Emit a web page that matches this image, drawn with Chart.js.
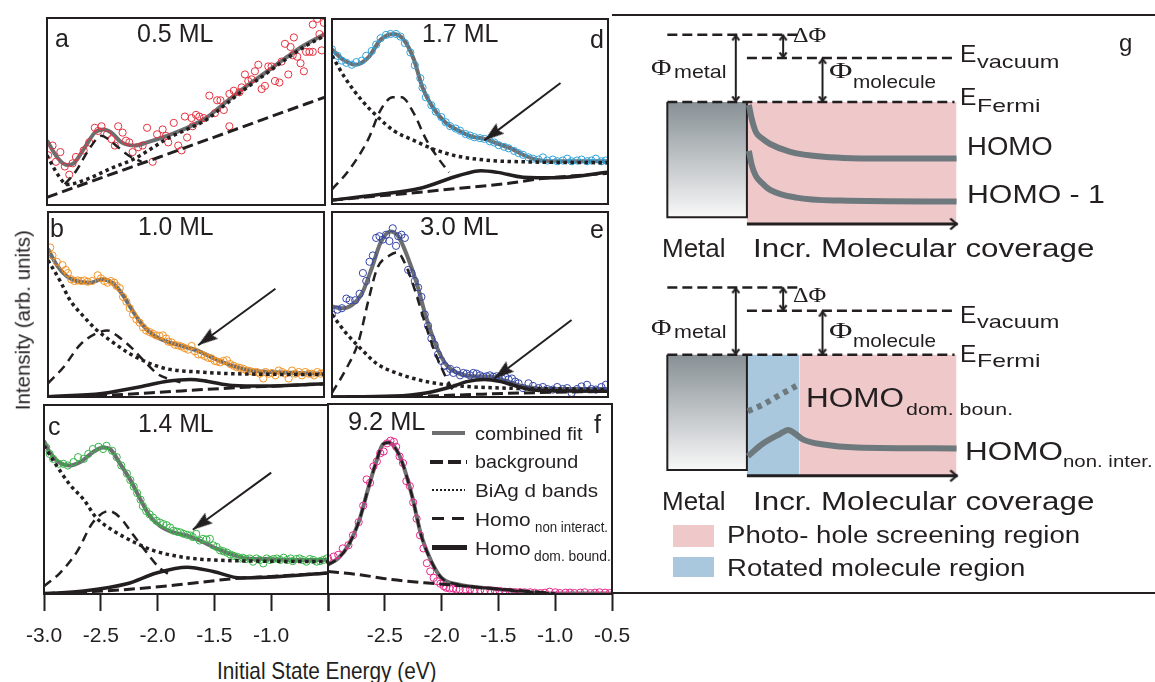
<!DOCTYPE html>
<html>
<head>
<meta charset="utf-8">
<script src="https://cdn.jsdelivr.net/npm/chart.js@4.4.0/dist/chart.umd.min.js"></script>
<style>
    body { margin: 0; background: #fff; width: 1155px; height: 682px; overflow: hidden; position: relative; font-family: 'Liberation Sans', Arial, sans-serif; color: #231f20; }
    canvas.cv { position: absolute; }
    .lbl { position: absolute; white-space: nowrap; line-height: 1; transform-origin: 0 0; }
    .box { position: absolute; }
</style>
</head>
<body>
<script>
// ---- spectra: [energy (eV), intensity (arb. units, 0-100 per panel)] ----
const pointsA = [[-2.99,26.6],[-2.95,31.8],[-2.92,23.1],[-2.88,28.3],[-2.84,20.6],[-2.80,16.2],[-2.77,22.3],[-2.74,25.7],[-2.67,29.2],[-2.62,33.5],[-2.57,41.3],[-2.54,39.6],[-2.51,42.1],[-2.46,37.8],[-2.42,35.2],[-2.39,31.8],[-2.36,42.1],[-2.32,38.7],[-2.29,34.4],[-2.26,33.5],[-2.23,28.3],[-2.18,30.9],[-2.14,31.8],[-2.10,41.3],[-2.05,23.1],[-2.01,37.8],[-1.96,40.4],[-1.93,37.0],[-1.91,33.5],[-1.86,43.9],[-1.82,31.8],[-1.79,29.2],[-1.76,47.3],[-1.74,36.1],[-1.70,46.5],[-1.69,42.1],[-1.66,48.2],[-1.63,47.3],[-1.59,46.5],[-1.54,58.5],[-1.49,49.1],[-1.47,56.0],[-1.44,56.0],[-1.41,50.8],[-1.36,42.1],[-1.36,59.4],[-1.32,61.1],[-1.27,60.3],[-1.25,62.9],[-1.22,69.8],[-1.19,66.3],[-1.16,67.2],[-1.13,71.5],[-1.10,75.0],[-1.07,62.0],[-1.04,63.7],[-1.01,74.1],[-0.98,74.1],[-0.95,66.3],[-0.91,65.5],[-0.89,76.7],[-0.86,86.2],[-0.83,69.8],[-0.81,84.5],[-0.79,80.1],[-0.78,89.6],[-0.75,79.3],[-0.72,75.8],[-0.69,71.5],[-0.67,81.9],[-0.64,81.9],[-0.61,81.9],[-0.61,96.5],[-0.57,99.5],[-0.55,91.4],[-0.53,82.7],[-0.51,97.4]];
const fitA = [[-3.0,34.4],[-2.9,24.9],[-2.82,21.4],[-2.76,22.3],[-2.65,31.8],[-2.57,38.7],[-2.49,40.4],[-2.42,38.7],[-2.33,33.5],[-2.21,31.8],[-2.10,33.5],[-1.92,37.0],[-1.74,41.3],[-1.57,46.5],[-1.39,55.1],[-1.22,62.9],[-1.04,70.6],[-0.86,78.4],[-0.69,85.3],[-0.5,91.4]];
const bgA = [[-3.0,4.1],[-2.5,14.8],[-2.0,25.4],[-1.5,36.2],[-1.0,47.0],[-0.5,57.7]];
const dBandA = [[-3.0,26.6],[-2.9,16.0],[-2.82,11.0],[-2.65,13.6],[-2.42,19.7],[-2.21,24.9],[-2.04,31.0],[-1.92,35.5],[-1.74,40.5],[-1.57,45.5],[-1.39,54.0],[-1.22,62.0],[-1.04,69.8],[-0.86,77.6],[-0.69,84.5],[-0.5,90.6]];
const homoNonA = [[-2.84,11.1],[-2.74,18.0],[-2.62,30.0],[-2.51,37.0],[-2.45,35.2],[-2.36,30.9],[-2.27,26.6],[-2.15,23.1]];

const pointsB = [[-2.98,80.8],[-2.96,76.5],[-2.92,73.1],[-2.87,71.3],[-2.84,68.7],[-2.82,67.0],[-2.79,63.6],[-2.76,62.7],[-2.73,63.0],[-2.70,62.7],[-2.67,63.0],[-2.64,62.3],[-2.60,62.7],[-2.55,65.8],[-2.52,64.1],[-2.49,62.7],[-2.46,61.8],[-2.43,62.7],[-2.40,61.8],[-2.38,60.1],[-2.35,58.9],[-2.32,54.1],[-2.29,51.5],[-2.26,48.0],[-2.23,44.6],[-2.20,42.0],[-2.17,40.2],[-2.14,37.7],[-2.11,35.9],[-2.08,35.1],[-2.05,34.2],[-2.02,33.3],[-1.99,33.0],[-1.96,33.3],[-1.93,31.6],[-1.91,29.9],[-1.88,29.5],[-1.85,28.2],[-1.82,27.8],[-1.79,27.3],[-1.76,26.4],[-1.73,25.6],[-1.70,27.6],[-1.67,24.7],[-1.64,23.0],[-1.61,23.0],[-1.58,22.1],[-1.55,21.2],[-1.52,20.9],[-1.49,19.5],[-1.47,19.2],[-1.44,18.7],[-1.41,19.5],[-1.38,19.9],[-1.35,17.8],[-1.32,16.9],[-1.29,16.1],[-1.26,15.7],[-1.23,15.2],[-1.20,14.3],[-1.17,14.0],[-1.14,13.5],[-1.11,13.5],[-1.08,12.6],[-1.05,10.0],[-1.03,13.5],[-1.00,12.6],[-0.97,13.0],[-0.94,11.7],[-0.91,14.3],[-0.88,13.5],[-0.85,12.6],[-0.82,10.0],[-0.79,14.3],[-0.76,12.6],[-0.73,13.5],[-0.70,11.7],[-0.67,13.5],[-0.64,12.6],[-0.61,12.6],[-0.59,11.7],[-0.56,13.5],[-0.53,12.6],[-0.50,13.0]];
const fitB = [[-3.0,80.0],[-2.92,71.3],[-2.83,65.3],[-2.74,62.7],[-2.62,61.8],[-2.51,63.6],[-2.42,61.8],[-2.33,55.8],[-2.24,47.2],[-2.15,39.4],[-2.04,33.3],[-1.92,29.9],[-1.77,27.3],[-1.63,24.7],[-1.48,20.4],[-1.33,16.9],[-1.16,14.3],[-0.98,13.5],[-0.75,13.0],[-0.5,12.6]];
const dBandB = [[-3.0,73.9],[-2.89,62.7],[-2.80,52.3],[-2.68,43.7],[-2.57,36.8],[-2.42,29.9],[-2.27,23.8],[-2.10,18.7],[-1.92,15.2],[-1.63,13.5],[-1.33,12.6],[-0.5,12.1]];
const homoNonB = [[-3.0,7.4],[-2.86,16.1],[-2.71,28.2],[-2.57,34.2],[-2.46,35.9],[-2.36,32.5],[-2.24,26.4],[-2.13,19.5],[-2.01,12.6],[-1.92,10.0],[-1.8,8.0]];
const homoDomB = [[-3.0,0.2],[-2.51,1.9],[-2.15,5.7],[-1.92,8.5],[-1.71,9.5],[-1.55,8.4],[-1.33,6.2],[-1.04,5.9],[-0.5,7.1]];
const bgB = [[-3.0,0.2],[-2.5,0.9],[-2.0,2.5],[-1.6,4.0],[-1.3,5.0],[-1.0,5.8],[-0.5,7.0]];
const arrowB = [[-0.94,58.5],[-1.64,28.0]];

const pointsC = [[-2.98,77.5],[-2.95,74.1],[-2.92,71.5],[-2.87,68.9],[-2.83,68.9],[-2.79,68.0],[-2.74,69.8],[-2.70,72.4],[-2.65,71.5],[-2.61,74.1],[-2.57,76.7],[-2.52,77.9],[-2.48,76.7],[-2.45,78.4],[-2.40,75.8],[-2.36,72.4],[-2.32,68.0],[-2.27,63.7],[-2.24,60.3],[-2.21,56.8],[-2.18,53.4],[-2.15,49.9],[-2.13,46.5],[-2.10,43.9],[-2.07,42.1],[-2.04,40.4],[-2.01,38.7],[-1.98,37.8],[-1.95,37.0],[-1.92,36.4],[-1.89,35.2],[-1.86,33.5],[-1.83,33.0],[-1.80,32.6],[-1.77,31.8],[-1.74,31.3],[-1.71,30.9],[-1.69,30.1],[-1.66,31.8],[-1.63,28.3],[-1.60,29.2],[-1.57,28.8],[-1.54,29.2],[-1.51,25.7],[-1.48,24.9],[-1.45,23.1],[-1.42,22.6],[-1.39,21.9],[-1.36,20.9],[-1.33,20.2],[-1.30,19.7],[-1.27,18.8],[-1.25,19.2],[-1.22,18.5],[-1.19,18.8],[-1.16,17.1],[-1.13,18.8],[-1.10,18.0],[-1.07,16.2],[-1.04,18.8],[-1.01,18.0],[-0.98,18.5],[-0.95,18.8],[-0.92,18.0],[-0.89,19.2],[-0.86,18.0],[-0.83,18.8],[-0.81,17.4],[-0.78,18.5],[-0.75,18.8],[-0.72,18.0],[-0.69,17.1],[-0.66,18.5],[-0.63,18.0],[-0.60,17.1],[-0.57,17.4],[-0.54,18.0],[-0.51,18.8]];
const fitC = [[-3.0,81.0],[-2.95,75.0],[-2.87,69.8],[-2.77,68.0],[-2.68,69.8],[-2.57,75.0],[-2.48,77.5],[-2.42,76.7],[-2.33,68.9],[-2.24,60.3],[-2.15,49.9],[-2.07,41.3],[-1.98,36.1],[-1.86,32.6],[-1.74,30.9],[-1.63,28.3],[-1.48,24.0],[-1.33,20.6],[-1.22,18.8],[-1.04,18.5],[-0.81,18.0],[-0.5,18.0]];
const dBandC = [[-3.0,78.4],[-2.89,68.0],[-2.77,57.7],[-2.65,49.9],[-2.54,40.4],[-2.39,33.5],[-2.21,27.5],[-2.04,23.1],[-1.80,19.7],[-1.51,18.0],[-0.5,17.1]];
const homoNonC = [[-3.0,4.1],[-2.86,11.1],[-2.71,22.3],[-2.57,37.8],[-2.43,43.9],[-2.33,40.4],[-2.21,30.9],[-2.10,22.3],[-1.98,13.6],[-1.89,10.2]];
const homoDomC = [[-3.0,0.2],[-2.65,1.6],[-2.27,5.4],[-2.01,11.1],[-1.74,14.2],[-1.51,11.9],[-1.27,8.5],[-1.04,8.8],[-0.5,11.1]];
const bgC = [[-3.0,0.2],[-2.27,2.4],[-1.80,5.0],[-1.33,8.1],[-1.0,9.3],[-0.5,11.1]];
const arrowC = [[-1.0,64.2],[-1.69,34.0]];

const pointsD = [[-3.0,83.6],[-2.95,80.1],[-2.91,77.5],[-2.87,76.3],[-2.82,75.3],[-2.78,76.7],[-2.73,77.5],[-2.69,80.1],[-2.64,82.7],[-2.60,86.2],[-2.56,89.6],[-2.51,91.4],[-2.47,91.9],[-2.42,91.9],[-2.38,90.5],[-2.34,87.0],[-2.29,81.9],[-2.25,75.0],[-2.20,68.0],[-2.18,62.9],[-2.15,57.7],[-2.10,53.4],[-2.06,49.9],[-2.01,47.0],[-1.97,44.2],[-1.93,42.1],[-1.88,40.8],[-1.84,39.6],[-1.79,37.8],[-1.75,37.0],[-1.71,36.1],[-1.66,35.6],[-1.62,35.2],[-1.57,33.9],[-1.53,33.2],[-1.49,31.8],[-1.44,30.9],[-1.40,30.1],[-1.35,28.7],[-1.31,27.5],[-1.27,26.6],[-1.22,25.2],[-1.18,24.5],[-1.13,24.0],[-1.09,25.2],[-1.05,23.5],[-1.00,24.0],[-0.96,23.1],[-0.91,23.5],[-0.87,24.5],[-0.83,23.1],[-0.78,23.5],[-0.74,24.0],[-0.69,23.1],[-0.65,23.5],[-0.61,24.5],[-0.56,23.1],[-0.52,23.5]];
const fitD = [[-3.0,83.6],[-2.91,78.4],[-2.79,75.3],[-2.67,79.3],[-2.56,88.8],[-2.44,91.9],[-2.35,88.8],[-2.26,78.4],[-2.18,62.9],[-2.09,52.5],[-1.97,43.9],[-1.85,39.6],[-1.74,36.6],[-1.62,35.2],[-1.50,32.6],[-1.38,30.1],[-1.27,26.6],[-1.15,24.0],[-0.97,23.1],[-0.74,23.1],[-0.5,23.1]];
const dBandD = [[-3.0,80.1],[-2.88,68.0],[-2.73,56.0],[-2.59,47.3],[-2.44,39.6],[-2.26,34.4],[-2.06,29.2],[-1.85,25.7],[-1.56,23.5],[-1.27,22.8],[-0.5,22.3]];
const homoNonD = [[-3.0,7.9],[-2.85,18.0],[-2.67,35.2],[-2.56,50.8],[-2.45,57.7],[-2.37,57.7],[-2.26,49.1],[-2.15,35.2],[-2.04,24.9],[-1.94,17.1]];
const homoDomD = [[-3.0,2.1],[-2.59,5.0],[-2.20,8.5],[-1.85,15.4],[-1.65,18.0],[-1.50,17.1],[-1.27,14.5],[-0.97,14.2],[-0.5,17.1]];
const bgD = [[-3.0,2.1],[-2.29,5.9],[-1.85,8.5],[-1.41,11.1],[-1.12,13.6],[-0.5,16.6]];
const arrowD = [[-0.93,65.4],[-1.62,34.4]];

const pointsE = [[-3.0,44.6],[-2.95,47.2],[-2.91,48.0],[-2.87,53.2],[-2.84,52.3],[-2.79,52.3],[-2.75,55.8],[-2.72,67.0],[-2.69,62.7],[-2.66,73.1],[-2.63,76.5],[-2.60,86.0],[-2.57,86.9],[-2.54,85.1],[-2.51,87.7],[-2.48,84.3],[-2.45,91.2],[-2.42,81.7],[-2.40,86.9],[-2.37,87.7],[-2.34,86.0],[-2.31,68.7],[-2.28,67.0],[-2.25,62.7],[-2.22,59.2],[-2.19,54.1],[-2.16,44.6],[-2.13,38.5],[-2.10,31.6],[-2.07,28.2],[-2.04,23.0],[-2.01,19.5],[-1.98,16.9],[-1.96,13.5],[-1.93,15.2],[-1.90,13.0],[-1.87,14.3],[-1.84,11.7],[-1.81,13.0],[-1.78,12.6],[-1.75,11.7],[-1.72,13.0],[-1.69,12.6],[-1.66,11.7],[-1.63,10.9],[-1.60,11.2],[-1.57,11.7],[-1.54,10.9],[-1.51,11.2],[-1.49,10.5],[-1.46,10.0],[-1.43,10.9],[-1.40,9.5],[-1.37,10.0],[-1.34,8.3],[-1.31,7.4],[-1.27,4.8],[-1.22,7.4],[-1.18,6.0],[-1.13,4.8],[-1.09,5.4],[-1.05,4.3],[-1.00,4.0],[-0.96,5.4],[-0.91,4.3],[-0.87,4.8],[-0.83,2.2],[-0.78,4.3],[-0.74,5.7],[-0.69,6.6],[-0.65,4.3],[-0.61,4.0],[-0.56,5.4],[-0.52,6.6]];
const fitE = [[-3.0,48.9],[-2.91,48.0],[-2.82,49.7],[-2.73,55.8],[-2.64,69.6],[-2.56,83.4],[-2.47,89.5],[-2.40,86.9],[-2.32,76.5],[-2.23,61.0],[-2.15,43.7],[-2.06,28.2],[-1.97,17.8],[-1.85,12.6],[-1.71,11.2],[-1.56,10.9],[-1.41,8.3],[-1.27,5.7],[-0.97,4.3],[-0.5,4.3]];
const dBandE = [[-3.0,44.6],[-2.88,35.1],[-2.73,25.6],[-2.59,17.8],[-2.44,13.5],[-2.26,10.0],[-2.06,7.4],[-1.79,5.7],[-0.5,4.0]];
const homoNonE = [[-3.0,2.2],[-2.88,14.3],[-2.76,29.9],[-2.67,52.3],[-2.59,69.6],[-2.48,76.5],[-2.41,78.2],[-2.32,69.6],[-2.23,54.1],[-2.15,38.5],[-2.06,23.0],[-1.97,10.9],[-1.90,3.1]];
const homoDomE = [[-3.0,0.0],[-2.44,0.5],[-2.15,2.2],[-1.91,5.7],[-1.78,8.3],[-1.62,9.5],[-1.47,8.3],[-1.32,5.7],[-1.15,3.6],[-0.5,3.1]];
const bgE = [[-3.0,0.0],[-2.15,0.5],[-1.71,1.4],[-1.27,2.2],[-0.5,3.1]];
const arrowE = [[-0.83,41.6],[-1.53,10.0]];

const pointsF = [[-3.0,18.8],[-2.95,19.7],[-2.91,20.6],[-2.87,24.0],[-2.82,25.7],[-2.78,30.9],[-2.73,37.8],[-2.69,46.5],[-2.66,60.3],[-2.63,58.5],[-2.60,67.2],[-2.57,69.8],[-2.54,74.1],[-2.51,75.0],[-2.48,79.3],[-2.45,80.7],[-2.42,80.1],[-2.40,77.5],[-2.37,72.4],[-2.34,68.9],[-2.31,59.4],[-2.28,56.8],[-2.25,48.2],[-2.22,39.6],[-2.19,30.9],[-2.16,24.0],[-2.13,16.2],[-2.10,11.9],[-2.07,8.5],[-2.04,6.7],[-2.01,5.4],[-1.98,4.1],[-1.96,3.3],[-1.93,2.9],[-1.90,2.9],[-1.87,2.4],[-1.84,2.4],[-1.79,2.4],[-1.75,2.4],[-1.71,2.1],[-1.66,2.1],[-1.62,1.9],[-1.57,1.9],[-1.53,1.6],[-1.49,1.6],[-1.44,1.2],[-1.40,1.2],[-1.35,1.0],[-1.31,1.0],[-1.27,0.9],[-1.22,0.9],[-1.18,0.7],[-1.13,0.5],[-1.09,0.7],[-1.05,1.2],[-1.00,0.9],[-0.96,0.5],[-0.91,0.7],[-0.87,0.7],[-0.83,0.5],[-0.78,0.7],[-0.74,0.9],[-0.69,0.5],[-0.65,0.7],[-0.61,0.9],[-0.56,0.7],[-0.52,0.5]];
const fitF = [[-3.0,15.4],[-2.91,18.8],[-2.82,25.7],[-2.73,37.8],[-2.64,56.8],[-2.57,70.6],[-2.52,78.6],[-2.47,79.8],[-2.42,77.9],[-2.35,69.8],[-2.26,51.6],[-2.18,30.9],[-2.09,17.1],[-2.0,8.5],[-1.85,5.0],[-1.56,2.9],[-1.27,1.2],[-1.0,0.2],[-0.5,0.2]];
const homoNonF = [[-3.0,15.4],[-2.91,18.8],[-2.82,25.7],[-2.73,37.8],[-2.64,56.8],[-2.57,70.6],[-2.52,78.6],[-2.47,79.8],[-2.42,77.9],[-2.35,69.8],[-2.26,51.6],[-2.18,30.9],[-2.09,17.1],[-2.0,8.5],[-1.85,5.0],[-1.56,2.9],[-1.27,1.2],[-1.0,0.2]];
const bgF = [[-3.0,11.9],[-2.73,10.2],[-2.44,7.6],[-2.15,5.9],[-1.85,4.5],[-1.56,2.9],[-1.27,1.6],[-1.0,0.2]];

const energyTicks = [-3.0, -2.5, -2.0, -1.5, -1.0, -0.5];

// ---- energy level diagram (g), in diagram units ----
const metalBoxTop = [[49.6, 82], [131.3, 200]];
const metalBoxLow = [[49.6, 341], [131.3, 459]];
const screenTop = [[131.3, 82], [346.5, 207]];
const screenLow = [[185.1, 341], [346.5, 465]];
const rotatedLow = [[131.3, 341], [185.1, 465]];
const levelLines = [
    [[49.6, 13], [186.1, 13]], [[131.3, 37], [344.4, 37]], [[49.6, 82], [344.4, 82]],
    [[49.6, 272], [186.1, 272]], [[131.3, 296], [344.4, 296]], [[49.6, 341], [344.4, 341]]
];
const gapArrows = [
    [[119.9, 13], [119.9, 82]], [[168.5, 13], [168.5, 37]], [[208.9, 37], [208.9, 82]],
    [[119.9, 272], [119.9, 341]], [[168.5, 272], [168.5, 296]], [[208.9, 296], [208.9, 341]]
];
const coverageArrows = [[[131.3, 207], [347.5, 207]], [[131.3, 465], [347.5, 465]]];
const homoTop = [[133.3,85],[136.4,100],[140.6,113],[147.8,120],[155.1,125],[175.8,133],[209.9,138],[279.2,140],[346.5,140]];
const homo1Top = [[133.3,132],[136.4,147],[140.6,158],[147.8,166],[155.1,172],[182,180],[227.5,183],[346.5,184]];
const homoDomLow = [[132.3,399],[147.8,392],[165.4,382],[182,373]];
const homoNonLow = [[132.3,445],[147.8,432],[165.4,422],[173.7,418],[180.9,422],[189.2,428],[209.9,433],[244,436],[346.5,437]];

const INK = '#231f20';
const SANS = "'Liberation Sans', Arial, sans-serif";
const SERIF = "'Liberation Serif', 'Times New Roman', serif";
Chart.defaults.font.family = SANS;
Chart.defaults.color = INK;

function addCanvas(left, top, w, h) {
    const c = document.createElement('canvas');
    c.className = 'cv';
    c.width = w; c.height = h;
    c.style.left = left + 'px'; c.style.top = top + 'px';
    c.style.width = w + 'px'; c.style.height = h + 'px';
    document.body.appendChild(c);
    return c;
}

function makeHead(w, len, filled) {
    // apex sits at the centre of the image so the data point is the tip
    const c = document.createElement('canvas');
    c.width = w; c.height = len * 2;
    const g = c.getContext('2d');
    g.fillStyle = g.strokeStyle = INK;
    g.beginPath();
    if (filled) {
        g.moveTo(w / 2, len); g.lineTo(w, 2 * len); g.lineTo(w / 2, 2 * len - 3); g.lineTo(0, 2 * len);
        g.closePath(); g.fill();
    } else {
        g.lineWidth = 2.2;
        g.moveTo(1.5, len + len * 0.8); g.lineTo(w / 2, len + 1); g.lineTo(w - 1.5, len + len * 0.8);
        g.stroke();
    }
    return c;
}
const bigHead = makeHead(13, 20, true);
const smallHead = makeHead(10, 7, false);
const sideHead = makeHead(14, 9, false);

function headRotation(ctx) {
    const pts = ctx.dataset.data, i = ctx.dataIndex;
    const j = i === 0 ? 1 : i - 1;
    const sx = ctx.chart.scales.x, sy = ctx.chart.scales.y;
    const dx = sx.getPixelForValue(pts[i].x) - sx.getPixelForValue(pts[j].x);
    const dy = sy.getPixelForValue(pts[i].y) - sy.getPixelForValue(pts[j].y);
    return Math.atan2(dx, -dy) * 180 / Math.PI;
}

const xy = pts => pts.map(p => ({x: p[0], y: p[1]}));

function curve(pts, style, order) {
    return Object.assign({
        data: xy(pts), showLine: true, pointRadius: 0, fill: false,
        cubicInterpolationMode: 'monotone', order: order
    }, style);
}

function arrow(pts, head, ends, width, order) {
    const last = pts.length - 1;
    const isHead = i => (ends === 'both' ? (i === 0 || i === last) : i === last);
    return {
        data: xy(pts), showLine: true, borderColor: INK, borderWidth: width, fill: false, order: order,
        pointStyle: ctx => isHead(ctx.dataIndex) ? head : 'circle',
        pointRadius: ctx => isHead(ctx.dataIndex) ? 4 : 0,
        pointRotation: headRotation
    };
}

const framePlugin = {
    id: 'frame',
    afterDraw(chart, args, opts) {
        if (!opts.on) return;
        const {ctx, chartArea: a} = chart;
        ctx.save();
        ctx.strokeStyle = INK;
        ctx.lineWidth = 2;
        ctx.strokeRect(a.left, a.top, a.right - a.left, a.bottom - a.top);
        ctx.restore();
    }
};

const FIT = {borderColor: '#6d6e70', borderWidth: 4};
const BG = {borderColor: INK, borderWidth: 3, borderDash: [11, 5]};
const DBAND = {borderColor: INK, borderWidth: 3.5, borderDash: [3.5, 3.5]};
const HNON = {borderColor: INK, borderWidth: 2.5, borderDash: [9, 6]};
const HDOM = {borderColor: INK, borderWidth: 3.5};

const panels = [
    {left: 44, top: 15, color: '#e5323f', pts: pointsA, fit: fitA, bg: bgA, dband: dBandA, hnon: homoNonA},
    {left: 44, top: 208, color: '#f39325', pts: pointsB, fit: fitB, bg: bgB, dband: dBandB, hnon: homoNonB, hdom: homoDomB, arrow: arrowB},
    {left: 44, top: 401, color: '#39b54a', pts: pointsC, fit: fitC, bg: bgC, dband: dBandC, hnon: homoNonC, hdom: homoDomC, arrow: arrowC, axis: 'left'},
    {left: 328, top: 15, color: '#2ea3dc', pts: pointsD, fit: fitD, bg: bgD, dband: dBandD, hnon: homoNonD, hdom: homoDomD, arrow: arrowD},
    {left: 328, top: 208, color: '#3646a6', pts: pointsE, fit: fitE, bg: bgE, dband: dBandE, hnon: homoNonE, hdom: homoDomE, arrow: arrowE},
    {left: 328, top: 401, color: '#e8268a', pts: pointsF, fit: fitF, bg: bgF, hnon: homoNonF, axis: 'right'}
];

panels.forEach(function (p) {
    const pad = p.axis ? 40 : 2;
    const w = 284 + pad * 2;
    const h = p.axis ? 193 + 2 + 55 + 5 : 193 + 4;
    const canvas = addCanvas(p.left - pad, p.top - 2, w, h);

    const datasets = [];
    if (p.arrow) datasets.push(arrow(p.arrow, bigHead, 'end', 2, 0));
    if (p.hnon) datasets.push(curve(p.hnon, HNON, 1));
    if (p.hdom) datasets.push(curve(p.hdom, HDOM, 2));
    if (p.dband) datasets.push(curve(p.dband, DBAND, 2));
    datasets.push(curve(p.bg, BG, 3));
    datasets.push({
        data: xy(p.pts), showLine: false, pointRadius: 3.6, pointBorderWidth: 1,
        pointBackgroundColor: 'rgba(0,0,0,0)', pointBorderColor: p.color, borderColor: p.color, order: 4
    });
    datasets.push(curve(p.fit, FIT, 5));

    const hidden = p.axis === 'left' ? -0.5 : -3.0;
    const xScale = {type: 'linear', min: -3.0, max: -0.5, display: false};
    if (p.axis) {
        Object.assign(xScale, {
            display: true,
            afterFit: s => { s.height = 55; },
            afterBuildTicks: s => { s.ticks = energyTicks.map(v => ({value: v})); },
            grid: {drawOnChartArea: false, drawTicks: true, tickLength: 17, tickWidth: 2, tickColor: INK},
            border: {display: false},
            ticks: {
                autoSkip: false, maxRotation: 0, minRotation: 0, padding: 13, color: INK,
                font: {size: 21},
                callback: v => Math.abs(v - hidden) < 1e-6 ? '' : v.toFixed(1)
            }
        });
    }
    new Chart(canvas, {
        type: 'scatter',
        data: {datasets: datasets},
        options: {
            responsive: false, animation: false, events: [], devicePixelRatio: 1,
            layout: {padding: {left: pad, right: pad, top: 2, bottom: p.axis ? 5 : 2}},
            plugins: {legend: {display: false}, tooltip: {enabled: false}, frame: {on: true}},
            scales: {x: xScale, y: {min: 0, max: 100, display: false}}
        },
        plugins: [framePlugin]
    });
});

// ---- panel g ----
const gCanvas = addCanvas(612, 15, 543, 580);
const PINK = '#efc8ca', BLUE = '#a9c8de', LEVEL = '#6e797e';

function rect(r, color, order) {
    return {
        data: xy([[r[0][0], r[0][1]], [r[1][0], r[0][1]]]), showLine: true, borderWidth: 0,
        pointRadius: 0, fill: {value: r[1][1]}, backgroundColor: color, order: order
    };
}
function metalFill(r) {
    return (ctx) => {
        const ch = ctx.chart, ys = ch.scales.y;
        if (!ch.chartArea || !ys) return '#b9bebf';
        const g = ch.ctx.createLinearGradient(0, ys.getPixelForValue(r[0][1]), 0, ys.getPixelForValue(r[1][1]));
        g.addColorStop(0, '#879095');
        g.addColorStop(1, '#f8f8f8');
        return g;
    };
}
function outline(r) {
    return {
        data: xy([[r[0][0], r[0][1]], [r[0][0], r[1][1]], [r[1][0], r[1][1]], [r[1][0], r[0][1]]]),
        showLine: true, borderColor: INK, borderWidth: 2, pointRadius: 0, fill: false, order: 8
    };
}

const gSets = [];
[metalBoxTop, metalBoxLow].forEach(r => {
    gSets.push(rect(r, metalFill(r), 10));
    gSets.push(outline(r));
});
gSets.push(rect(screenTop, PINK, 10));
gSets.push(rect(screenLow, PINK, 10));
gSets.push(rect(rotatedLow, BLUE, 10));
levelLines.forEach(l => gSets.push(curve(l, {borderColor: INK, borderWidth: 2.5, borderDash: [10, 5]}, 3)));
gapArrows.forEach(a => gSets.push(arrow(a, smallHead, 'both', 2, 1)));
coverageArrows.forEach(a => gSets.push(arrow(a, sideHead, 'end', 3, 1)));
gSets.push(curve(homoTop, {borderColor: LEVEL, borderWidth: 6}, 5));
gSets.push(curve(homo1Top, {borderColor: LEVEL, borderWidth: 6}, 5));
gSets.push(curve(homoDomLow, {borderColor: LEVEL, borderWidth: 6, borderDash: [5, 5]}, 5));
gSets.push(curve(homoNonLow, {borderColor: LEVEL, borderWidth: 6}, 5));

new Chart(gCanvas, {
    type: 'scatter',
    data: {datasets: gSets},
    options: {
        responsive: false, animation: false, events: [], devicePixelRatio: 1,
        layout: {padding: 0},
        plugins: {legend: {display: false}, tooltip: {enabled: false}},
        scales: {
            x: {min: 0, max: 543, display: false},
            y: {min: 0, max: 580, reverse: true, display: false}
        }
    }
});

// ---- frames, swatches and text ----
function addBox(left, top, w, h, css) {
    const d = document.createElement('div');
    d.className = 'box';
    d.style.left = left + 'px'; d.style.top = top + 'px';
    d.style.width = w + 'px'; d.style.height = h + 'px';
    Object.assign(d.style, css);
    document.body.appendChild(d);
}
addBox(612, 14, 543, 2, {background: INK});
addBox(612, 592, 543, 2, {background: INK});
addBox(673, 525, 41, 22, {background: PINK});
addBox(673, 557, 41, 20, {background: BLUE});

// legend samples in panel f
addBox(432, 431, 33, 4, {background: '#6d6e70'});
addBox(430, 460, 37, 4, {background: 'repeating-linear-gradient(90deg,' + INK + ' 0 13px,transparent 13px 18px)'});
addBox(432, 489, 33, 2, {background: 'repeating-linear-gradient(90deg,' + INK + ' 0 2px,transparent 2px 4px)'});
addBox(432, 517, 33, 3, {background: 'repeating-linear-gradient(90deg,' + INK + ' 0 12px,transparent 12px 20px)'});
addBox(432, 545, 35, 5, {background: INK});

// [text, left, baseline, font size, width, family]
const labels = [
    ['a', 55, 47, 25], ['0.5 ML', 137, 42, 25, 76],
    ['b', 50, 237, 25], ['1.0 ML', 138, 235, 25, 75],
    ['c', 48, 435, 25], ['1.4 ML', 138, 432, 25, 75],
    ['d', 590, 48, 25], ['1.7 ML', 422, 42, 25, 76],
    ['e', 590, 238, 25], ['3.0 ML', 420, 235, 25, 78],
    ['f', 594, 433, 25], ['9.2 ML', 348, 430, 25, 77],
    ['combined fit', 475, 440, 19, 107], ['background', 475, 468, 19, 103],
    ['BiAg d bands', 475, 497, 19, 123],
    ['Homo', 475, 526, 19, 56], ['non interact.', 535, 532, 14, 73],
    ['Homo', 475, 555, 19, 56], ['dom. bound.', 534, 561, 14, 77],
    ['Initial State Energy (eV)', 217, 679, 24, 219],
    ['Φ', 651, 75, 24, 21, SERIF], ['metal', 674, 78, 19, 52],
    ['ΔΦ', 793, 43, 22, 33, SERIF],
    ['Φ', 829, 78, 24, 24, SERIF], ['molecule', 853, 88, 19, 83],
    ['E', 960, 62, 23, 16], ['vacuum', 977, 68, 19, 83],
    ['E', 960, 105, 23, 16], ['Fermi', 977, 112, 19, 64],
    ['HOMO', 967, 155, 25, 86], ['HOMO - 1', 967, 203, 25, 138],
    ['g', 1119, 51, 24],
    ['Metal', 662, 257, 26], ['Incr. Molecular coverage', 753, 257, 26, 341],
    ['Φ', 651, 335, 24, 21, SERIF], ['metal', 674, 338, 19, 52],
    ['ΔΦ', 793, 303, 22, 33, SERIF],
    ['Φ', 829, 338, 24, 24, SERIF], ['molecule', 853, 347, 19, 83],
    ['E', 960, 323, 23, 16], ['vacuum', 977, 328, 19, 83],
    ['E', 960, 362, 23, 16], ['Fermi', 977, 367, 19, 64],
    ['HOMO', 806, 408, 27, 98], ['dom. boun.', 906, 415, 17, 107],
    ['HOMO', 965, 460, 26, 98], ['non. inter.', 1063, 467, 17, 90],
    ['Metal', 662, 510, 26], ['Incr. Molecular coverage', 753, 510, 26, 341],
    ['Photo- hole screening region', 727, 543, 23, 353],
    ['Rotated molecule region', 727, 576, 23, 298]
];
labels.forEach(function (l) {
    const d = document.createElement('div');
    d.className = 'lbl';
    d.textContent = l[0];
    d.style.fontSize = l[3] + 'px';
    if (l[5]) d.style.fontFamily = l[5];
    d.style.left = l[1] + 'px';
    d.style.top = (l[2] - 0.8465 * l[3]) + 'px';
    document.body.appendChild(d);
    if (l[4]) d.style.transform = 'scaleX(' + (l[4] / d.offsetWidth).toFixed(3) + ')';
});

const yTitle = document.createElement('div');
yTitle.className = 'lbl';
yTitle.textContent = 'Intensity (arb. units)';
yTitle.style.fontSize = '20.5px';
document.body.appendChild(yTitle);
const tw = yTitle.offsetWidth;
yTitle.style.left = (23 - tw / 2) + 'px';
yTitle.style.top = (320 - 10.25) + 'px';
yTitle.style.transformOrigin = '50% 50%';
yTitle.style.transform = 'rotate(-90deg)';
</script>
</body>
</html>
